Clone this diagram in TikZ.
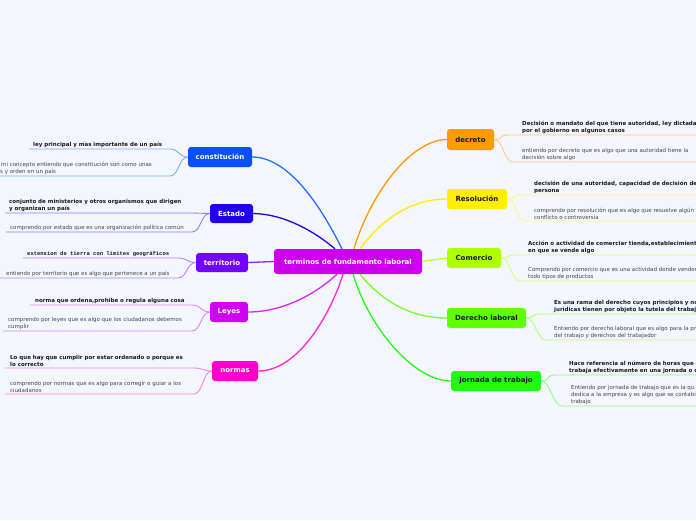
\documentclass[tikz,border=0pt]{standalone}
\usepackage{fontspec}
\setmainfont{DejaVu Sans}
\newfontfamily\monob{Liberation Mono}
\usetikzlibrary{calc}
\definecolor{bg}{HTML}{F3F6FD}
\definecolor{cmain}{HTML}{CC00EE}
\definecolor{ccon}{HTML}{0650FF}
\definecolor{cest}{HTML}{2200EE}
\definecolor{cter}{HTML}{7400FF}
\definecolor{cley}{HTML}{D000F2}
\definecolor{cnor}{HTML}{FF00CC}
\definecolor{cdec}{HTML}{FF9A00}
\definecolor{cres}{HTML}{FFEE00}
\definecolor{ccom}{HTML}{AEFF00}
\definecolor{cder}{HTML}{5EFF00}
\definecolor{cjor}{HTML}{1EFF10}
\definecolor{txtd}{HTML}{1A1A1A}
\definecolor{txtg}{HTML}{454545}
\tikzset{
  branch/.style={rounded corners=3pt, text=white, font=\bfseries\fontsize{7}{8}\selectfont, inner sep=0pt, anchor=center},
  lt/.style={anchor=south west, inner sep=0pt, align=left, font=\fontsize{5.5}{7}\selectfont, text=txtg},
  lb/.style={lt, font=\bfseries\fontsize{5.5}{7}\selectfont, text=txtd},
  lm/.style={lt, font=\monob\bfseries\fontsize{5.5}{7}\selectfont, text=txtd},
  conn/.style={line width=1.3pt},
  uline/.style={line width=0.9pt},
}
\newcommand\leafR[8]{%
  \node[#7] (#3) at (#6,#5-1.5) {#8};
  \coordinate (#3a) at (#4,#5);
  \coordinate (#3b) at (705,#5);
  \draw[uline,#2!50!white] (#1.east) .. controls +(9,0) and +(-9,0) .. (#3a) -- (#3b);
}
\newcommand\leafL[9]{%
  \node[#8] (#3) at (#6,#5-1.5) {#9};
  \coordinate (#3a) at (#4,#5);
  \coordinate (#3b) at (#7,#5);
  \draw[uline,#2!50!white] (#1.west) .. controls +(-9,0) and +(9,0) .. (#3a) -- (#3b);
}
\begin{document}
\begin{tikzpicture}[x=1pt,y=-1pt]
\useasboundingbox (0,0) rectangle (696,520);
\clip (0,0) rectangle (696,520);
\fill[bg] (0,0) rectangle (696,520);

% central and branch nodes
\node[branch, fill=cmain, minimum width=148pt, minimum height=25pt] (c) at (348,261.5) {terminos de fundamento laboral};
\node[branch, fill=ccon, minimum width=64pt, minimum height=20pt] (con) at (220,157) {constitución};
\node[branch, fill=cest, minimum width=43pt, minimum height=19pt] (est) at (231.5,213.5) {Estado};
\node[branch, fill=cter, minimum width=52pt, minimum height=19pt] (ter) at (222,262.5) {territorio};
\node[branch, fill=cley, minimum width=38pt, minimum height=20pt] (ley) at (229,312) {Leyes};
\node[branch, fill=cnor, minimum width=46pt, minimum height=20pt] (nor) at (235,371) {normas};
\node[branch, fill=cdec, text=txtd, minimum width=47pt, minimum height=21pt] (dec) at (470.5,139.5) {decreto};
\node[branch, fill=cres, text=txtd, minimum width=60pt, minimum height=20pt] (res) at (477,199) {Resolución};
\node[branch, fill=ccom, text=txtd, minimum width=54pt, minimum height=20pt] (com) at (474,258) {Comercio};
\node[branch, fill=cder, text=txtd, minimum width=79pt, minimum height=20pt] (der) at (486.5,318) {Derecho laboral};
\node[branch, fill=cjor, text=txtd, minimum width=90pt, minimum height=20pt] (jor) at (496,381) {Jornada de trabajo};

% connectors from the central node
\draw[conn, ccon!85!white] (con.east) .. controls (295,157) and (330,225) .. ($(c.north)+(-6,0)$);
\draw[conn, cest] (est.east) .. controls (285,214) and (315,232) .. ($(c.north)+(-13,0)$);
\draw[conn, cter!85!white] (ter.east) -- (c.west);
\draw[conn, cley!85!white] (ley.east) .. controls (285,312) and (318,292) .. ($(c.south)+(-11,0)$);
\draw[conn, cnor!85!white] (nor.east) .. controls (300,371) and (332,310) .. ($(c.south)+(-5,0)$);
\draw[conn, cdec] ($(c.north)+(6,0)$) .. controls (370,195) and (410,140) .. (dec.west);
\draw[conn, cres] ($(c.north)+(12,0)$) .. controls (385,215) and (415,199) .. (res.west);
\draw[conn, ccom!85!white] (c.east) -- (com.west);
\draw[conn, cder!85!white] ($(c.south)+(12,0)$) .. controls (385,305) and (415,318) .. (der.west);
\draw[conn, cjor] ($(c.south)+(5,0)$) .. controls (370,330) and (415,381) .. (jor.west);

% left leaves
\leafL{con}{ccon}{l1}{170}{149}{33}{29}{lb}{ley principal y mas importante de un país}
\leafL{con}{ccon}{l2}{170}{176}{1}{-5}{lt}{mi concepto entiendo que constitución son como unas\\\hspace*{-1pt}s y orden en un país}
\leafL{est}{cest}{l3}{192}{213}{9}{5}{lb}{conjunto de ministerios y otros organismos que dirigen\\y organizan un país}
\leafL{est}{cest}{l4}{192}{232}{10}{6}{lt}{comprendo por estado que es una organización política común}
\leafL{ter}{cter}{l5}{178}{258}{27}{23}{lm}{extension de tierra con limites geográficos}
\leafL{ter}{cter}{l6}{178}{278}{6}{0}{lt}{entiendo por territorio que es algo que pertenece a un país}
\leafL{ley}{cley}{l7}{192}{305}{35}{30}{lb}{norma que ordena,prohibe o regula alguna cosa}
\leafL{ley}{cley}{l8}{192}{331}{8}{3}{lt}{comprendo por leyes que es algo que los ciudadanos debemos\\cumplir}
\leafL{nor}{cnor}{l9}{194}{368}{10}{5}{lb}{Lo que hay que cumplir por estar ordenado o porque es\\lo correcto}
\leafL{nor}{cnor}{l10}{194}{394}{10}{5}{lt}{comprendo por normas que es algo para corregir o guiar a los\\ciudadanos}

% right leaves
\leafR{dec}{cdec}{r1}{508}{135}{522}{lb}{Decisión o mandato del que tiene autoridad, ley dictada\\por el gobierno en algunos casos}
\leafR{dec}{cdec}{r2}{513}{162}{522}{lt}{entiendo por decreto que es algo que una autoridad tiene la\\decisión sobre algo}
\leafR{res}{cres}{r3}{521}{195}{534}{lb}{decisión de una autoridad, capacidad de decisión de\\persona}
\leafR{res}{cres}{r4}{525}{221}{534}{lt}{comprendo por resolución que es algo que resuelve algún\\conflicto o controversia}
\leafR{com}{ccom}{r5}{515}{255}{528}{lb}{Acción o actividad de comerciar tienda,establecimiento\\en que se vende algo}
\leafR{com}{ccom}{r6}{520}{281}{528}{lt}{Comprendo por comercio que es una actividad donde vender\\todo tipos de productos}
\leafR{der}{cder}{r7}{540}{314}{554}{lb}{Es una rama del derecho cuyos principios y no\\jurídicas tienen por objeto la tutela del trabajo}
\leafR{der}{cder}{r8}{546}{340}{554}{lt}{Entiendo por derecho laboral que es algo para la pr\\del trabajo y derechos del trabajador}
\leafR{jor}{cjor}{r9}{555}{375}{569}{lb}{Hace referencia al número de horas que e\\trabaja efectivamente en una jornada o d}
\leafR{jor}{cjor}{r10}{562}{406}{571}{lt}{Entiendo por jornada de trabajo que es la qu\\dedica a la empresa y es algo que se contabi\\trabajo}
\end{tikzpicture}
\end{document}
